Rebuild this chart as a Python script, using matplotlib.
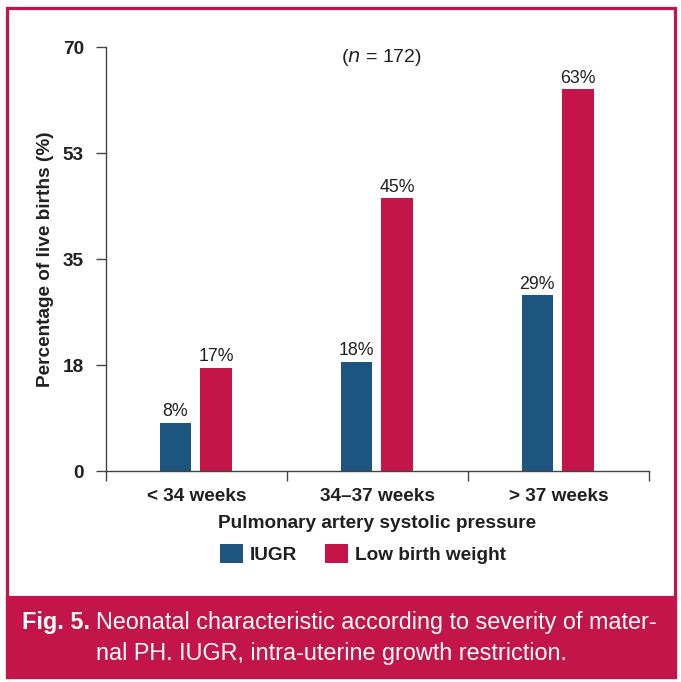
import matplotlib
matplotlib.use("Agg")
import matplotlib.pyplot as plt
import numpy as np
from matplotlib.patches import Rectangle

plt.rcParams['font.family'] = ['Liberation Sans', 'DejaVu Sans']

categories = ["< 34 weeks", "34\u201337 weeks", "> 37 weeks"]
iugr = [8, 18, 29]
lbw = [17, 45, 63]
series_names = ["IUGR", "Low birth weight"]
ytick_vals = [0, 17.5, 35, 52.5, 70]
ytick_labels = ["0", "18", "35", "53", "70"]

BLUE = "#1B5580"
RED = "#C4154A"
TXT = "#231F20"
W, H = 681, 682
FS = 13.7

fig = plt.figure(figsize=(W / 100, H / 100), dpi=100)
ax = fig.add_axes([106 / W, 1 - 471 / H, (649 - 106) / W, (471 - 47) / H])

x = np.arange(len(categories)) + 0.5
bw = 0.172
off = 0.118
b1 = ax.bar(x - off, iugr, bw, color=BLUE, label=series_names[0])
b2 = ax.bar(x + off - 0.01, lbw, bw, color=RED, label=series_names[1])
for bars, vals in ((b1, iugr), (b2, lbw)):
    ax.bar_label(bars, labels=[f"{v}%" for v in vals], padding=2,
                 fontsize=12.8, color=TXT)

ax.set_xlim(0, 3)
ax.set_ylim(0, 70)
ax.set_yticks(ytick_vals)
ax.set_yticklabels(ytick_labels, fontsize=FS, fontweight='bold', color=TXT)
ax.set_xticks([0, 1, 2, 3])
ax.set_xticklabels([])
ax.set_xticks(x, minor=True)
ax.set_xticklabels(categories, minor=True, fontsize=FS, fontweight='bold', color=TXT)
ax.tick_params(axis='x', which='minor', length=0, pad=12.5)
ax.tick_params(axis='x', which='major', length=7, width=1, color='#444444')
ax.tick_params(axis='y', length=7, width=1, color='#444444', pad=9)
for s in ('top', 'right'):
    ax.spines[s].set_visible(False)
for s in ('left', 'bottom'):
    ax.spines[s].set_color('#444444')
    ax.spines[s].set_linewidth(1)

ax.set_xlabel("Pulmonary artery systolic pressure", fontsize=FS,
              fontweight='bold', color=TXT, labelpad=7)
ax.set_ylabel("Percentage of live births (%)", fontsize=FS,
              fontweight='bold', color=TXT, labelpad=6)

ax.text(0.5065, 0.975, r"($\mathit{n}$ = 172)", transform=ax.transAxes,
        ha='center', va='center', fontsize=14, color=TXT)

fig.legend(handles=[b1, b2], labels=series_names, loc='center',
           bbox_to_anchor=(363 / W, 1 - 554 / H), ncol=2, frameon=False,
           prop={'size': FS, 'weight': 'bold'}, handlelength=1.2,
           handleheight=1.2, handletextpad=0.35, columnspacing=1.5,
           labelcolor=TXT)

# border and caption band
fig.patches.append(Rectangle((6.5 / W, 1 - 677 / H), (674.5 - 6.5) / W, (677 - 7.5) / H,
                             transform=fig.transFigure, fill=False,
                             edgecolor=RED, linewidth=2.3, zorder=0))
fig.patches.append(Rectangle((6.5 / W, 1 - 677 / H), (674.5 - 6.5) / W, (677 - 597) / H,
                             transform=fig.transFigure, facecolor=RED,
                             edgecolor=RED, linewidth=2.3, zorder=0))

CFS = 16.8
tb = fig.text(22 / W, 1 - 629 / H, "Fig. 5.", fontsize=CFS, fontweight='bold',
              color='white', ha='left', va='baseline')
fig.canvas.draw()
r = fig.canvas.get_renderer()
bb = tb.get_window_extent(r)
fig.text((bb.x1 + 6) / W, 1 - 629 / H,
         "Neonatal characteristic according to severity of mater-",
         fontsize=CFS, color='white', ha='left', va='baseline')
fig.text(331.5 / W, 1 - 660 / H, "nal PH. IUGR, intra-uterine growth restriction.",
         fontsize=CFS, color='white', ha='center', va='baseline')

fig.savefig("out.png", dpi=100)
